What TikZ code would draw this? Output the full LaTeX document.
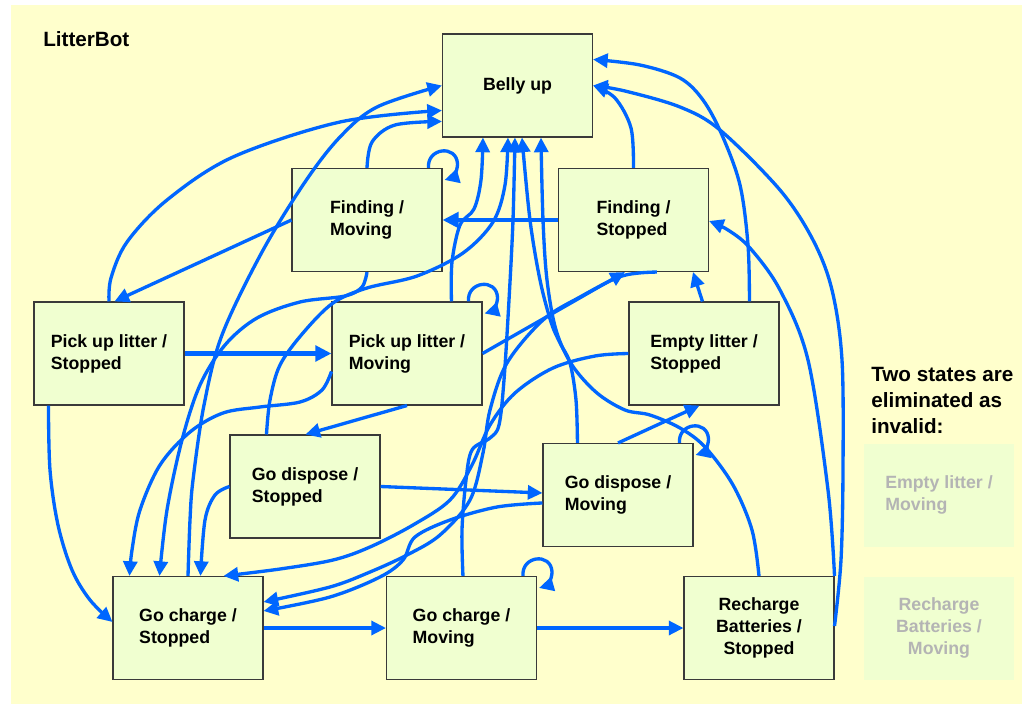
\documentclass[tikz,border=0pt]{standalone}
\usepackage{fontspec}
\setmainfont{Liberation Sans}
\usetikzlibrary{arrows.meta,calc}
\definecolor{bgyellow}{HTML}{FFFFCC}
\definecolor{boxfill}{HTML}{F0FFD0}
\definecolor{boxline}{HTML}{3A3A3A}
\definecolor{linkblue}{HTML}{0066FF}
\definecolor{ghosttext}{HTML}{B4B4B4}

% self transition drawn over the top right corner of a state
\newcommand\selfloop[1]{%
  \draw[conn] ($(#1.north east)+(-14,0)$)
    .. controls ($(#1.north east)+(-16,-20)$) and ($(#1.north east)+(14,-24)$) .. ($(#1.north east)+(15,-4)$)
    .. controls ($(#1.north east)+(15,4)$) and ($(#1.north east)+(9,10)$) .. ($(#1.north east)+(2,12)$);}

\begin{document}
\begin{tikzpicture}[x=0.75pt,y=-0.75pt,
  stbox/.style={draw=boxline, line width=0.8pt, fill=boxfill,
    minimum width=112.5pt, minimum height=77.25pt, inner sep=0pt, align=left,
    font=\fontsize{13.3pt}{16.5pt}\selectfont\bfseries},
  ghostbox/.style={stbox, draw=none, text=ghosttext},
  conn/.style={draw=linkblue, line width=2.5pt, line join=round,
    -{Triangle[length=11pt,width=10.5pt]}},
  boldconn/.style={conn, line width=3.1pt, -{Triangle[length=12pt,width=11.5pt]}},
  route/.style={smooth, tension=0.55}
]
% page and background
\fill[white] (0,0) rectangle (1022,704);
\fill[bgyellow] (11,5) rectangle (1022,704);

\node[anchor=base west, inner sep=0pt, font=\fontsize{15.5pt}{19.5pt}\selectfont\bfseries] (title) at (43,46.5) {LitterBot};
\node[anchor=north west, inner sep=0pt, align=left, font=\fontsize{15.5pt}{19.5pt}\selectfont\bfseries] (note) at (871,367)
  {Two states are\\eliminated as\\invalid:};

% states
\node[stbox, align=center] (bu)  at (517.5,85.5) {Belly up};
\node[stbox] (fm)  at (367,220)   {Finding /\\Moving};
\node[stbox] (fs)  at (633.5,220) {Finding /\\Stopped};
\node[stbox] (pus) at (109,353.5) {Pick up litter /\\Stopped};
\node[stbox] (pum) at (407,353.5) {Pick up litter /\\Moving};
\node[stbox] (els) at (704,353.5) {Empty litter /\\Stopped};
\node[stbox] (gds) at (305,486.5) {Go dispose /\\Stopped};
\node[stbox] (gdm) at (618,495)   {Go dispose /\\Moving};
\node[stbox] (gcs) at (188,628)   {Go charge /\\Stopped};
\node[stbox] (gcm) at (461.5,628) {Go charge /\\Moving};
\node[stbox, align=center] (rbs) at (759,628) {Recharge\\Batteries /\\Stopped};
\node[ghostbox] (elm) at (939,495) {Empty litter /\\Moving};
\node[ghostbox, align=center] (rbm) at (939,628) {Recharge\\Batteries /\\Moving};

% connector end points on the states
\coordinate (a1) at (pus.north);                    \coordinate (b1) at ($(bu.north west)+(0,77)$);
\coordinate (a2) at (gcs.north);                    \coordinate (b2) at (bu.west);
\coordinate (a3) at (fm.north);                     \coordinate (b3) at ($(bu.north west)+(0,88)$);
\coordinate (a4) at (fs.north);                     \coordinate (b4) at (bu.east);
\coordinate (a5) at ($(els.north west)+(121,0)$);   \coordinate (b5) at ($(bu.north east)+(0,26)$);
\coordinate (a6) at ($(rbs.north east)+(0,50)$);    \coordinate (b6) at (bu.east);
\coordinate (a7) at (rbs.north east);               \coordinate (b7) at ($(fs.north east)+(0,53)$);
\coordinate (a8) at (rbs.north);                    \coordinate (b8) at ($(bu.south west)+(99,0)$);
\coordinate (a9) at ($(gdm.north west)+(35,0)$);    \coordinate (b9) at ($(bu.south west)+(80,0)$);
\coordinate (a10) at ($(gcm.north west)+(77,0)$);   \coordinate (b10) at ($(bu.south west)+(73,0)$);
\coordinate (a11) at ($(gds.north west)+(37,0)$);   \coordinate (b11) at ($(bu.south west)+(66,0)$);
\coordinate (a12) at ($(pum.north west)+(120,0)$);  \coordinate (b12) at ($(bu.south west)+(41,0)$);
\coordinate (a16) at ($(pus.south west)+(15,0)$);   \coordinate (b16) at ($(gcs.north west)+(0,46)$);
\coordinate (a18) at ($(pum.north west)+(0,70)$);   \coordinate (b18) at ($(gcs.north west)+(17,0)$);
\coordinate (a19) at (fm.south);                    \coordinate (b19) at ($(gcs.north west)+(47,0)$);
\coordinate (a20) at (gds.west);                    \coordinate (b20) at ($(gcs.north west)+(88,0)$);
\coordinate (a21) at (els.west);                    \coordinate (b21) at ($(gcs.north east)+(-40,0)$);
\coordinate (a22) at ($(fs.south west)+(99,0)$);    \coordinate (b22) at ($(gcs.north east)+(0,26)$);
\coordinate (a23) at ($(gdm.north west)+(0,60)$);   \coordinate (b23) at ($(gcs.north east)+(0,35)$);

% transitions into Belly up
\draw[conn] plot[route] coordinates {(a1) (111,278) (127,242) (167,200) (233,157) (340,122) (b1)};
\draw[conn] plot[route] coordinates {(a2) (190,520) (193,480) (204,405) (222,335) (262,252) (305,182) (340,137) (377,107) (b2)};
\draw[conn] plot[route] coordinates {(a3) (372,142) (395,125) (b3)};
\draw[conn] plot[route] coordinates {(a4) (631,128) (615,98) (b4)};
\draw[conn] plot[route] coordinates {(a5) (748,245) (740,185) (722,135) (703,100) (680,78) (640,65) (b5)};
\draw[conn] plot[route] coordinates {(a6) (841,560) (843,470) (842,360) (832,290) (813,240) (780,190) (720,130) (680,107) (625,91) (b6)};
\draw[conn] plot[route] coordinates {(a8) (752,530) (733,485) (705,447) (680,428) (650,415) (625,410) (597,393) (572,365) (556,330) (547,280) (543,220) (b8)};
\draw[conn] plot[route] coordinates {(a9) (576,400) (570,363) (560,343) (551,322) (540,280) (530,220) (b9)};
\draw[conn] plot[route] coordinates {(a10) (462,530) (466,480) (472,450) (490,438) (499,425) (504,380) (509,300) (513,220) (b10)};
\draw[conn] plot[route] coordinates {(a11) (270,400) (280,365) (303,333) (333,303) (367,288) (417,276) (463,253) (493,222) (505,185) (b11)};
\draw[conn] plot[route] coordinates {(a12) (452,262) (460,225) (474,209) (481,180) (b12)};

% transitions among the working states
\draw[conn] plot[route] coordinates {(a7) (828,490) (808,360) (780,290) (750,248) (728,230) (b7)};
\draw[boldconn] (fs.west) -- (fm.east);
\draw[conn] (fm.west) -- ($(pus.north west)+(81,0)$);
\draw[boldconn] (pus.east) -- (pum.west);
\draw[conn] plot[route] coordinates {(a16) (50,470) (58,525) (72,570) (90,600) (b16)};
\draw[conn] (pum.south) -- ($(gds.north west)+(76,0)$);
\draw[conn] plot[route] coordinates {(a18) (322,390) (300,402) (260,407) (223,413) (190,432) (160,465) (140,510) (132,550) (b18)};
\draw[conn] plot[route] coordinates {(a19) (362,287) (345,296) (300,302) (257,318) (225,345) (200,385) (182,440) (167,510) (b19)};
\draw[conn] plot[route] coordinates {(a20) (215,495) (205,520) (b20)};
\draw[conn] plot[route] coordinates {(a21) (595,356) (553,368) (515,393) (490,425) (472,465) (450,500) (413,525) (370,547) (333,560) (280,569) (b21)};
\draw[conn] plot[route] coordinates {(a22) (622,276) (580,297) (543,320) (507,363) (490,410) (483,453) (470,500) (440,535) (407,555) (370,572) (330,587) (b22)};
\draw[conn] plot[route] coordinates {(a23) (497,507) (450,520) (415,537) (403,560) (380,577) (330,597) (b23)};
\draw[conn] (gds.east) -- ($(gdm.north west)+(0,50)$);
\draw[conn] (pum.east) -- ($(fs.south west)+(67,0)$);
\draw[conn] ($(els.north west)+(74,0)$) -- ($(fs.south west)+(135,0)$);
\draw[conn] (gdm.north) -- ($(els.south west)+(71,0)$);
\draw[conn] (gcs.east) -- (gcm.west);
\draw[conn] (gcm.east) -- (rbs.west);

% states that stay where they are
\selfloop{fm}
\selfloop{pum}
\selfloop{gdm}
\selfloop{gcm}
\end{tikzpicture}
\end{document}
